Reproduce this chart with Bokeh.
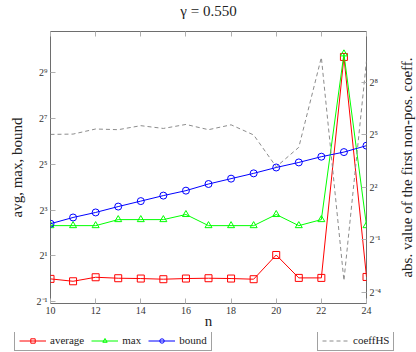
from bokeh.plotting import figure
from bokeh.layouts import column, row
from bokeh.models import (Range1d, LogAxis, LinearAxis, FixedTicker, Legend,
                          LegendItem, LogScale, Title, Label)
from bokeh.embed import file_html
from bokeh.resources import INLINE

# ---- data ----
n = [10, 11, 12, 13, 14, 15, 16, 17, 18, 19, 20, 21, 22, 23, 24]
average = [1.0, 0.93, 1.05, 1.02, 1.01, 0.99, 1.01, 1.02, 1.01, 0.99, 2.06, 1.03, 1.03, 820, 1.06]
maximum = [5, 5, 5, 6, 6, 6, 7, 5, 5, 5, 7, 5, 6, 900, 5]
bound = [5.3, 6.4, 7.45, 8.9, 10.5, 12.4, 14.4, 17.6, 20.7, 24.3, 29.0, 33.8, 40.2, 46.2, 56.1]
coeffHS = [32.7, 33.1, 40.5, 39.4, 46.2, 41.4, 48.5, 39.4, 47.8, 32.0, 9.06, 19.6, 690, 0.1, 605]

x_ticks = [10, 12, 14, 16, 18, 20, 22, 24]
left_tick_values = [0.5, 2, 8, 32, 128, 512]
left_tick_labels = ["2⁻¹", "2¹", "2³", "2⁵", "2⁷", "2⁹"]
right_tick_values = [0.0625, 0.5, 4, 32, 256]
right_tick_labels = ["2⁻⁴", "2⁻¹", "2²", "2⁵", "2⁸"]
title_text = "γ = 0.550"

FONT = "Liberation Serif"
TICK_COLOR = "#b0b0b0"
FRAME_COLOR = "#6e6e6e"
RED, GREEN, BLUE, GRAY = "#ff0000", "#00ff00", "#0000ff", "#8c8c8c"


def strip(width, height, **kw):
    f = figure(width=width, height=height, x_range=Range1d(0, 1), y_range=Range1d(0, 1),
               output_backend="svg", toolbar_location=None, title=None,
               x_axis_location=None, y_axis_location=None, **kw)
    f.outline_line_color = None
    f.grid.visible = False
    f.background_fill_color = "white"
    f.border_fill_color = "white"
    return f


# ---- title strip ----
t = strip(416, 20, min_border=0, min_border_left=0, min_border_right=0,
          min_border_top=0, min_border_bottom=0)
t.line([-5, -4], [-5, -5], line_alpha=0)
t.add_layout(Label(x=208, y=10, x_units="screen", y_units="screen", text=title_text,
                   text_align="center", text_baseline="middle", text_font=FONT,
                   text_font_size="15px", text_color="#222222"))

# ---- main plot ----
p = figure(width=396, height=312, y_axis_type="log",
           x_range=Range1d(10, 24), y_range=Range1d(0.475, 1770),
           output_backend="svg", toolbar_location=None, title=None,
           min_border_left=50, min_border_right=30,
           min_border_top=11, min_border_bottom=29)
p.extra_y_ranges = {"right": Range1d(0.0404, 1924)}
p.extra_y_scales = {"right": LogScale()}

p.outline_line_color = FRAME_COLOR
p.outline_line_width = 1
p.grid.visible = False
p.background_fill_color = "white"
p.border_fill_color = "white"


def style_axis(ax):
    ax.axis_line_color = None
    ax.major_tick_in = 5
    ax.major_tick_out = 0
    ax.major_tick_line_color = TICK_COLOR
    ax.minor_tick_line_color = None
    ax.major_label_text_font = FONT
    ax.major_label_text_font_size = "10px"
    ax.major_label_text_color = "#333333"
    ax.axis_label_text_font = FONT
    ax.axis_label_text_font_size = "15px"
    ax.axis_label_text_font_style = "normal"
    ax.axis_label_text_color = "#222222"


# bottom x axis
xa = p.xaxis[0]
xa.ticker = FixedTicker(ticks=x_ticks)
xa.axis_label = "n"
style_axis(xa)
xa.major_label_standoff = 3
xa.axis_label_standoff = -4

# top x axis (ticks only)
xt = LinearAxis(ticker=FixedTicker(ticks=x_ticks))
style_axis(xt)
xt.major_label_overrides = {tk: "" for tk in x_ticks}
xt.major_label_text_font_size = "1px"
xt.major_label_standoff = 0
p.add_layout(xt, "above")

# left y axis
ya = p.yaxis[0]
ya.ticker = FixedTicker(ticks=left_tick_values)
ya.major_label_overrides = dict(zip(left_tick_values, left_tick_labels))
ya.axis_label = "avg, max, bound"
style_axis(ya)
ya.major_label_standoff = 3
ya.axis_label_standoff = 9

# right y axis (its title is drawn in the narrow strip to the right)
yr = LogAxis(y_range_name="right", ticker=FixedTicker(ticks=right_tick_values))
yr.major_label_overrides = dict(zip(right_tick_values, right_tick_labels))
style_axis(yr)
yr.major_label_standoff = 3
p.add_layout(yr, "right")

# series
p.line(n, average, line_color=RED, line_width=1)
p.scatter(n, average, marker="square", size=7, line_color=RED, fill_color=None, line_width=1)
p.line(n, maximum, line_color=GREEN, line_width=1)
p.scatter(n, maximum, marker="triangle", size=7, line_color=GREEN, fill_color=None, line_width=1)
p.line(n, bound, line_color=BLUE, line_width=1)
p.scatter(n, bound, marker="circle", size=7, line_color=BLUE, fill_color=None, line_width=1)
p.line(n, coeffHS, line_color=GRAY, line_width=1, line_dash="4 3", y_range_name="right")

# ---- right-axis title strip (text reads bottom-to-top) ----
r = strip(20, 312, min_border_left=0, min_border_right=0,
          min_border_top=11, min_border_bottom=29)
r.line([-5, -4], [-5, -5], line_alpha=0)
r.add_layout(Title(text="abs. value of the first non-pos. coeff.", align="center",
                   text_font=FONT, text_font_size="15px", text_font_style="normal",
                   text_color="#222222", standoff=0), "left")

# ---- legend strip ----
q = strip(416, 20, min_border=0, min_border_left=0, min_border_right=0,
          min_border_top=0, min_border_bottom=0)

for fig in (t, p, r, q):
    try:
        fig.frame_align = False
    except AttributeError:
        pass

# legend-only renderers: their points lie outside the strip's range
hx, hy = [-5, -4], [-5, -5]
g_avg_l = q.line(hx, hy, line_color=RED, line_width=1)
g_avg_m = q.scatter(hx, hy, marker="square", size=7, line_color=RED, fill_color=None)
g_max_l = q.line(hx, hy, line_color=GREEN, line_width=1)
g_max_m = q.scatter(hx, hy, marker="triangle", size=7, line_color=GREEN, fill_color=None)
g_bnd_l = q.line(hx, hy, line_color=BLUE, line_width=1)
g_bnd_m = q.scatter(hx, hy, marker="circle", size=7, line_color=BLUE, fill_color=None)
g_hs = q.line(hx, hy, line_color=GRAY, line_width=1, line_dash="4 3")


def style_legend(lg):
    lg.orientation = "horizontal"
    lg.border_line_color = "#444444"
    lg.border_line_width = 1
    lg.background_fill_color = "white"
    lg.background_fill_alpha = 1
    lg.label_text_font = FONT
    lg.label_text_font_size = "11px"
    lg.label_text_color = "#222222"
    lg.glyph_width = 27
    lg.glyph_height = 11
    lg.label_height = 11
    lg.label_width = 10
    lg.label_standoff = 4
    lg.spacing = 7
    lg.padding = 4
    lg.margin = 0


leg1 = Legend(items=[LegendItem(label="average", renderers=[g_avg_l, g_avg_m]),
                     LegendItem(label="max", renderers=[g_max_l, g_max_m]),
                     LegendItem(label="bound", renderers=[g_bnd_l, g_bnd_m])],
              location=(14, 1))
style_legend(leg1)
q.add_layout(leg1)

leg2 = Legend(items=[LegendItem(label="coeffHS", renderers=[g_hs])],
              location=(317, 1))
style_legend(leg2)
q.add_layout(leg2)

layout = column(t, row(p, r, spacing=0), q, spacing=0)
open("out.html", "w").write(file_html(layout, INLINE))
